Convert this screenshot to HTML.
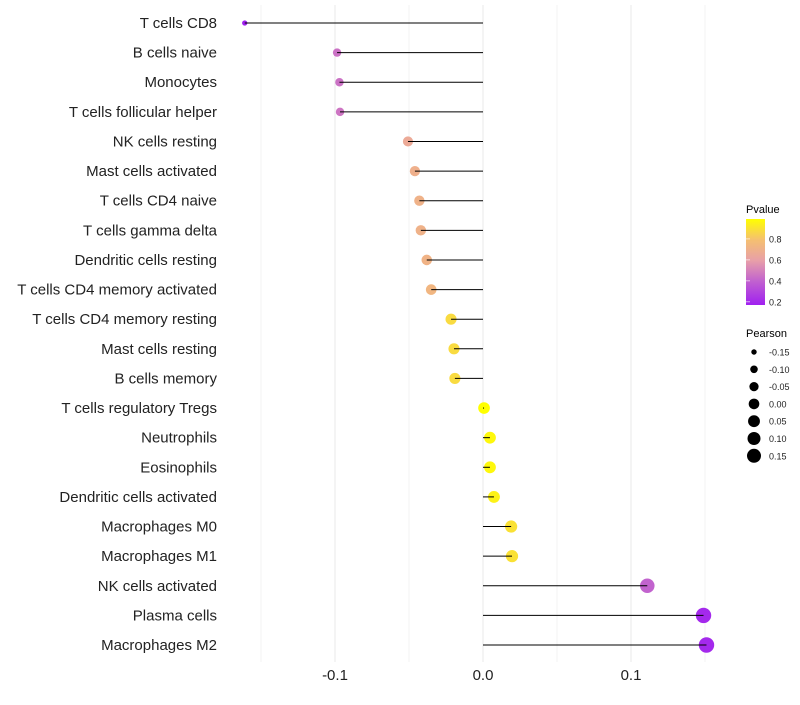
<!DOCTYPE html>
<html><head><meta charset="utf-8"><style>
body{margin:0;background:#fff;font-family:"Liberation Sans",sans-serif}
svg text{font-family:"Liberation Sans",sans-serif}
</style></head><body>
<svg id="chart" width="800" height="700" xmlns="http://www.w3.org/2000/svg">
<g id="grid"></g>
<g id="points"></g>
<g id="marks"></g>
<g id="ylabels"></g>
<g id="xlabels"></g>
<g id="legend">
<defs><linearGradient id="pg" x1="0" y1="1" x2="0" y2="0">
<stop offset="0" stop-color="#a020f0"/><stop offset="0.27" stop-color="#c060d0"/><stop offset="0.52" stop-color="#e8a0a8"/><stop offset="0.76" stop-color="#f5c070"/><stop offset="1" stop-color="#ffff00"/></linearGradient></defs>
<text x="746" y="213" font-size="11">Pvalue</text>
<rect x="746" y="219" width="19" height="86" fill="url(#pg)"/>
</g>
</svg>
<script>
const categories=["T cells CD8","B cells naive","Monocytes","T cells follicular helper","NK cells resting","Mast cells activated","T cells CD4 naive","T cells gamma delta","Dendritic cells resting","T cells CD4 memory activated","T cells CD4 memory resting","Mast cells resting","B cells memory","T cells regulatory  Tregs ","Neutrophils","Eosinophils","Dendritic cells activated","Macrophages M0","Macrophages M1","NK cells activated","Plasma cells","Macrophages M2"];
const pearson=[-0.161,-0.0986,-0.097,-0.0966,-0.0507,-0.046,-0.043,-0.042,-0.038,-0.035,-0.0216,-0.0196,-0.019,0.0007,0.0047,0.0047,0.0074,0.019,0.0196,0.111,0.149,0.151];
const pvalue=[0.17,0.45,0.45,0.46,0.66,0.7,0.71,0.71,0.72,0.74,0.88,0.88,0.88,0.99,0.97,0.97,0.95,0.9,0.9,0.4,0.2,0.2];
const xTicks=[-0.1,0,0.1];
const xTickLabels=["-0.1","0.0","0.1"];
const xMinor=[-0.15,-0.05,0.05,0.15];
const pTicks=[0.2,0.4,0.6,0.8];
const sizeTicks=[-0.15,-0.10,-0.05,0.00,0.05,0.10,0.15];
const NS="http://www.w3.org/2000/svg";
const x=v=>483+v*1480;
const y=i=>23+i*(622/21);
const r=v=>Math.sqrt(Math.max(4,28.2+139*v));
const pY=p=>219+(0.99-p)/(0.82)*86;
const stops=[[0.17,[160,32,240]],[0.39,[192,96,208]],[0.6,[232,160,168]],[0.8,[245,192,112]],[0.99,[255,255,0]]];
function col(p){p=Math.max(0.17,Math.min(0.99,p));for(let k=0;k<stops.length-1;k++){const [p0,a]=stops[k],[p1,b]=stops[k+1];if(p<=p1){const t=(p-p0)/(p1-p0);return "rgb("+a.map((c,i)=>Math.round(c+(b[i]-c)*t)).join(",")+")";}}return "rgb(255,255,0)";}
function mk(tag,attrs,parent){const e=document.createElementNS(NS,tag);for(const k in attrs)e.setAttribute(k,attrs[k]);document.getElementById(parent).appendChild(e);return e;}
xTicks.concat(xMinor).forEach(v=>{const l=mk("line",{x1:x(v),x2:x(v),y1:5,y2:662,stroke:"#ebebeb","stroke-width":xMinor.includes(v)?0.6:1.1},"grid");

});
xTicks.forEach((v,i)=>{const t=mk("text",{x:x(v),y:680,"font-size":15,"text-anchor":"middle",fill:"#222"},"xlabels");t.textContent=xTickLabels[i];

});
categories.forEach((c,i)=>{
const t=mk("text",{x:217,y:y(i)+5,"font-size":15,"text-anchor":"end",fill:"#222"},"ylabels");t.textContent=c;


const d=mk("circle",{cx:x(pearson[i]),cy:y(i),r:1.1*r(pearson[i]),fill:col(pvalue[i])},"points");


const l=mk("line",{x1:x(0),x2:x(pearson[i]),y1:y(i),y2:y(i),stroke:"#000","stroke-width":1},"marks");


});
pTicks.forEach(p=>{const t=mk("text",{x:769,y:pY(p)+3.5,"font-size":9,fill:"#222"},"legend");t.textContent=p.toFixed(1);


const l=mk("line",{x1:746,x2:750,y1:pY(p),y2:pY(p),stroke:"#fff","stroke-width":0.6},"legend");

});
const pt=mk("text",{x:746,y:337,"font-size":11},"legend");pt.textContent="Pearson";


sizeTicks.forEach((v,i)=>{const cy=352+i*17.3;
const c=mk("circle",{cx:754,cy:cy,r:r(v),fill:"#000"},"legend");


const t=mk("text",{x:769,y:cy+3.5,"font-size":9,fill:"#222"},"legend");t.textContent=v.toFixed(2);

});
</script>
</body></html>
